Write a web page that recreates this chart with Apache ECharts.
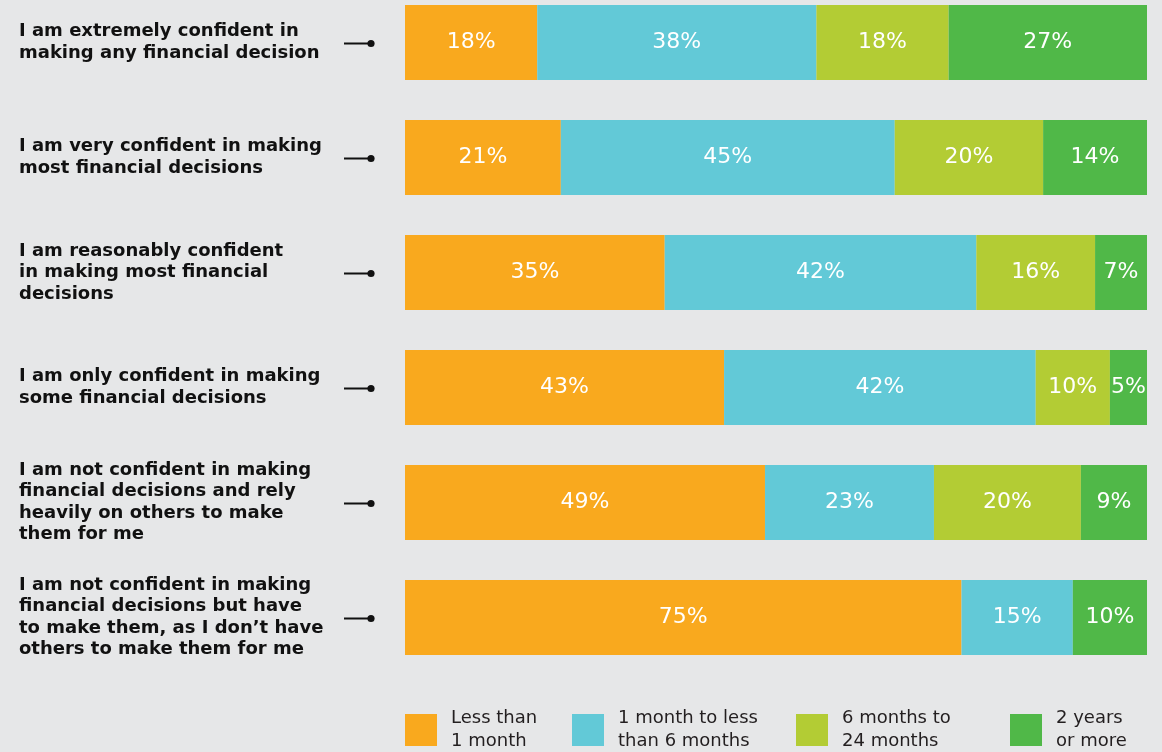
<!DOCTYPE html>
<html>
<head>
<meta charset="utf-8">
<script src="https://cdn.jsdelivr.net/npm/echarts@6/dist/echarts.min.js"></script>
<style>
  html, body { margin: 0; padding: 0; background: #e6e7e8; }
  #chart { width: 1162px; height: 752px; }
</style>
</head>
<body>
<div id="chart"></div>
<script>
// Statements about financial confidence (top to bottom)
var categories = [
  'I am extremely confident in\nmaking any financial decision',
  'I am very confident in making\nmost financial decisions',
  'I am reasonably confident\nin making most financial\ndecisions',
  'I am only confident in making\nsome financial decisions',
  'I am not confident in making\nfinancial decisions and rely\nheavily on others to make\nthem for me',
  'I am not confident in making\nfinancial decisions but have\nto make them, as I don\u2019t have\nothers to make them for me'
];

// Legend names
var seriesNames = [
  'Less than\n1 month',
  '1 month to less\nthan 6 months',
  '6 months to\n24 months',
  '2 years\nor more'
];

// Shares of respondents per statement (%), as labelled
var lessThan1Month = [18, 21, 35, 43, 49, 75];
var oneTo6Months   = [38, 45, 42, 42, 23, 15];
var sixTo24Months  = [18, 20, 16, 10, 20, null];
var twoYearsOrMore = [27, 14, 7, 5, 9, 10];

var colors = ['#f9a91e', '#62c9d7', '#b3cc34', '#50b848'];

var rows = [lessThan1Month, oneTo6Months, sixTo24Months, twoYearsOrMore];

// Each bar fills the full width: scale each row by its own total
var rowTotals = categories.map(function (_, i) {
  return rows.reduce(function (s, arr) { return s + (arr[i] || 0); }, 0);
});

function stackData(arr) {
  return arr.map(function (v, i) {
    if (v == null) return null;
    return { value: v / rowTotals[i] * 100, raw: v };
  });
}

var barSeries = rows.map(function (arr, k) {
  return {
    name: seriesNames[k],
    type: 'bar',
    stack: 'total',
    barWidth: 75,
    itemStyle: { color: colors[k] },
    label: {
      show: true,
      position: 'inside',
      color: '#ffffff',
      fontFamily: 'DejaVu Sans',
      fontSize: 22,
      formatter: function (p) { return p.data.raw + '%'; }
    },
    emphasis: { disabled: true },
    data: stackData(arr)
  };
});

// Connector line + dot between each statement and its bar
var connectorSeries = {
  type: 'custom',
  silent: true,
  clip: false,
  data: categories.map(function (_, i) { return [0, i]; }),
  renderItem: function (params, api) {
    var p = api.coord([0, api.value(1)]);
    var y = Math.round(p[1]) + 0.5;
    return {
      type: 'group',
      children: [
        { type: 'line', shape: { x1: p[0] - 61, y1: y, x2: p[0] - 34, y2: y },
          style: { stroke: '#111', lineWidth: 2 } },
        { type: 'circle', shape: { cx: p[0] - 34, cy: y, r: 3.6 },
          style: { fill: '#111' } }
      ]
    };
  }
};

var legendLefts = [405, 572, 796, 1010];
var legends = seriesNames.map(function (n, k) {
  return {
    data: [n],
    left: legendLefts[k],
    top: 707,
    padding: 0,
    orient: 'horizontal',
    itemWidth: 32,
    itemHeight: 32,
    icon: 'rect',
    selectedMode: false,
    textStyle: {
      fontFamily: 'DejaVu Sans',
      fontSize: 18,
      lineHeight: 23,
      color: '#231f20',
      padding: [0, 0, 0, 9]
    }
  };
});

var chart = echarts.init(document.getElementById('chart'), null, { renderer: 'canvas' });
chart.setOption({
  backgroundColor: '#e6e7e8',
  animation: false,
  legend: legends,
  grid: {
    left: 405, right: 15, top: -15, height: 690,
    containLabel: false,
    outerBoundsMode: 'none'
  },
  xAxis: {
    type: 'value',
    min: 0,
    max: 100,
    show: false
  },
  yAxis: {
    type: 'category',
    inverse: true,
    data: categories,
    axisLine: { show: false },
    axisTick: { show: false },
    axisLabel: {
      align: 'left',
      margin: 386,
      fontFamily: 'DejaVu Sans',
      fontWeight: 'bold',
      fontSize: 18,
      lineHeight: 21.5,
      color: '#111111'
    }
  },
  series: barSeries.concat([connectorSeries])
});
</script>
</body>
</html>
